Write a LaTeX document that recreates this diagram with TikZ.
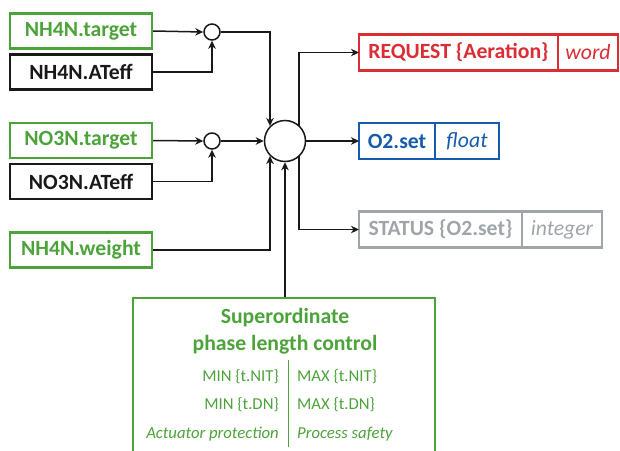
\documentclass[tikz,border=0pt]{standalone}
\usepackage{fontspec}
\setmainfont{Carlito}
\usetikzlibrary{arrows.meta}
\definecolor{cgreen}{RGB}{76,163,58}
\definecolor{cred}{RGB}{218,45,52}
\definecolor{cblue}{RGB}{22,92,172}
\definecolor{cgray}{RGB}{160,165,170}
\definecolor{cblack}{RGB}{25,25,25}
\begin{document}
\begin{tikzpicture}[x=1pt,y=-1pt,
  bigfont/.style={font=\fontsize{21.7}{26}\selectfont\bfseries},
  itfont/.style={font=\fontsize{21.7}{26}\selectfont\itshape},
  smallfont/.style={font=\fontsize{16.7}{20}\selectfont},
  smallit/.style={font=\fontsize{16.7}{20}\selectfont\itshape},
  inbox/.style={draw, line width=2.4pt, inner sep=0pt, minimum width=142pt, minimum height=35pt, bigfont},
  gbox/.style={inbox, draw=cgreen, text=cgreen},
  kbox/.style={inbox, draw=cblack, text=cblack, line width=2.8pt},
  obox/.style={draw, line width=2.2pt, inner sep=0pt, outer sep=0pt, minimum height=36pt},
  redbox/.style={obox, draw=cred, text=cred},
  bluebox/.style={obox, draw=cblue, text=cblue},
  graybox/.style={obox, draw=cgray, text=cgray},
  ln/.style={line width=1.5pt, cblack, line join=miter},
  arr/.style={ln, -{Stealth[length=8pt,width=7.5pt,inset=2.5pt]}},
  sumnode/.style={circle, draw=cblack, line width=1.5pt, fill=white, inner sep=0pt},
  gtxt/.style={text=cgreen, inner sep=0pt}
]
\useasboundingbox (0,0) rectangle (620,450);
\clip (0,0) rectangle (620,450);

% input boxes
\node[gbox] (t1) at (81,31) {NH4N.target};
\node[kbox] (a1) at (81,72) {NH4N.ATeff};
\node[gbox] (t2) at (81,140.5) {NO3N.target};
\node[kbox] (a2) at (81,181.5) {NO3N.ATeff};
\node[gbox] (w) at (81,250) {NH4N.weight};

% output boxes
\node[redbox, minimum width=199pt, bigfont] (R) at (458.5,52.5) {REQUEST \{Aeration\}};
\node[redbox, minimum width=60pt, itfont, anchor=west] (Rt) at (R.east) {word};
\node[bluebox, minimum width=76pt, bigfont] (O) at (397,141) {O2.set};
\node[bluebox, minimum width=64pt, itfont, anchor=west] (Ot) at (O.east) {float};
\node[graybox, minimum width=163pt, bigfont] (St) at (440.5,229.5) {STATUS \{O2.set\}};
\node[graybox, minimum width=80pt, itfont, anchor=west] (Stt) at (St.east) {integer};

% output bus (behind the big circle)
\coordinate (bt) at (299,52.5);
\coordinate (bb) at (299,229.5);
\draw[arr] (bb) -- (bt) -- (R.west);
\draw[arr] (bt) -- (bb) -- (St.west);

% summing junctions
\node[sumnode, minimum size=16pt] (c1) at (212,32) {};
\node[sumnode, minimum size=16pt] (c2) at (212,141) {};
\node[sumnode, minimum size=41pt] (C) at (285,141) {};

% superordinate box
\node[draw=cgreen, line width=2.4pt, minimum width=302pt, minimum height=170pt, inner sep=0pt] (S) at (284,383) {};
\node[gtxt, bigfont, anchor=base] (s1) at (285,323) {Superordinate};
\node[gtxt, bigfont, anchor=base] (s2) at (285,350) {phase length control};
\node[gtxt, smallfont, anchor=base east] (m1) at (279,381) {MIN \{t.NIT\}};
\node[gtxt, smallfont, anchor=base west] (x1) at (297,381) {MAX \{t.NIT\}};
\node[gtxt, smallfont, anchor=base east] (m2) at (279,409.5) {MIN \{t.DN\}};
\node[gtxt, smallfont, anchor=base west] (x2) at (297,409.5) {MAX \{t.DN\}};
\node[gtxt, smallit, anchor=base east] (m3) at (279,438) {Actuator protection};
\node[gtxt, smallit, anchor=base west] (x3) at (297,438) {Process safety};
\draw[cgreen, line width=1pt] (288,360) -- (288,447);

% connectors
\draw[arr] (t1.east) -- (c1.west);
\draw[arr] (a1.east) -| (c1.south);
\draw[arr] (c1.east) -| (C.north west);
\draw[arr] (t2.east) -- (c2.west);
\draw[arr] (a2.east) -| (c2.south);
\draw[arr] (c2.east) -- (C.west);
\draw[arr] (w.east) -| (C.south west);
\draw[arr] (C.south |- S.north) -- (C.south);
\draw[arr] (C.east) -- (O.west);
\end{tikzpicture}
\end{document}
